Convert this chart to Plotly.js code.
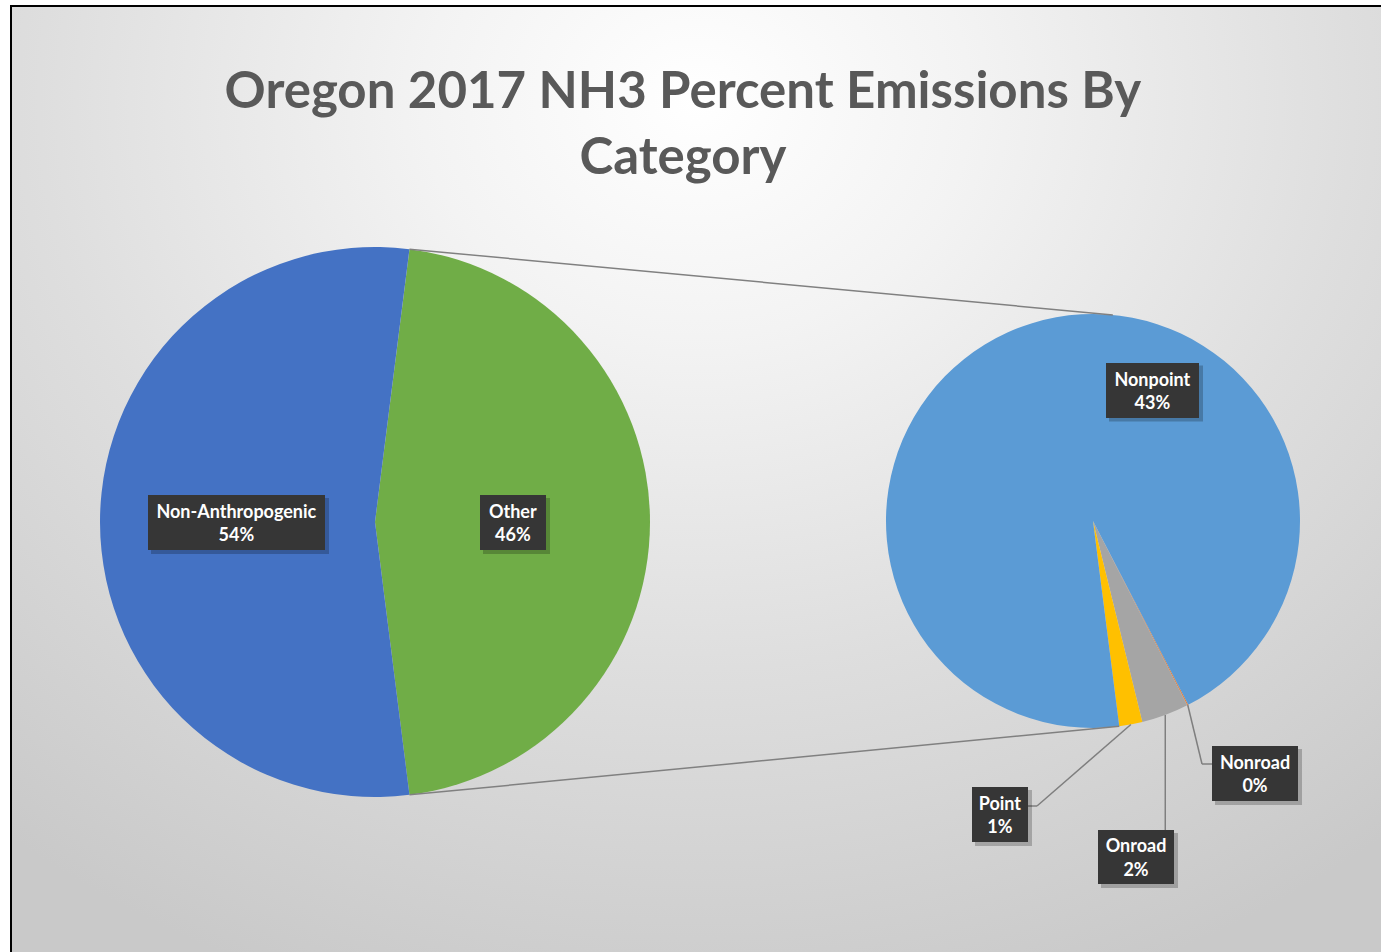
<!DOCTYPE html>
<html>
<head>
<meta charset="utf-8">
<script src="https://cdn.plot.ly/plotly-3.0.1.min.js"></script>
<style>
  html, body { margin: 0; padding: 0; background: #ffffff; width: 1381px; height: 952px; overflow: hidden; }
  #bg { position: absolute; left: 10px; top: 5px; width: 1371px; height: 947px;
        border-left: 2px solid #000; border-top: 2px solid #000; box-sizing: border-box;
        background: radial-gradient(ellipse 80% 100% at 50% 10%, #ffffff 0%, #f3f3f3 25%, #dedede 60%, #c9c9c9 100%); }
  #chart { position: absolute; left: 0; top: 0; width: 1381px; height: 952px; }
</style>
</head>
<body>
<div id="bg"></div>
<div id="chart"></div>
<script>
// ---- data ----
var mainLabels = ["Other", "Non-Anthropogenic"];
var nonAnthropogenic = 54.0;
var subLabels = ["Nonroad", "Onroad", "Point", "Nonpoint"];
var subValues = [0.04, 1.70, 0.83, 43.43];
var mainColors = ["#70AD47", "#4472C4"];
var subColors = ["#ED7D31", "#A5A5A5", "#FFC000", "#5B9BD5"];

var otherTotal = subValues.reduce(function (a, b) { return a + b; }, 0);
var mainValues = [otherTotal, nonAnthropogenic];
var total = otherTotal + nonAnthropogenic;

var W = 1381, H = 952;
function px(x) { return x / W; }
function py(y) { return 1 - y / H; }

// geometry (pixels)
var L = { cx: 375, cy: 522, r: 275 };
var R = { cx: 1093, cy: 521, r: 207 };

// Other slice centered at 3 o'clock
var otherAngle = otherTotal / total * 360;
var mainRotation = 90 - otherAngle / 2;
var subRotation = 152.6;

function pt(c, angDeg, rr) {
  var a = angDeg * Math.PI / 180;
  var r = rr === undefined ? c.r : rr;
  return [c.cx + r * Math.sin(a), c.cy - r * Math.cos(a)];
}

var traces = [
  {
    type: "pie", labels: mainLabels, values: mainValues, sort: false,
    direction: "clockwise", rotation: mainRotation,
    marker: { colors: mainColors, line: { width: 0 } },
    textinfo: "none", hoverinfo: "label+percent",
    domain: { x: [px(L.cx - L.r), px(L.cx + L.r)], y: [py(L.cy + L.r), py(L.cy - L.r)] },
    showlegend: false
  },
  {
    type: "pie", labels: subLabels, values: subValues, sort: false,
    direction: "clockwise", rotation: subRotation,
    marker: { colors: subColors, line: { width: 0 } },
    textinfo: "none", hoverinfo: "label+value",
    domain: { x: [px(R.cx - R.r), px(R.cx + R.r)], y: [py(R.cy + R.r), py(R.cy - R.r)] },
    showlegend: false
  }
];

// angles in the secondary pie
var acc = subRotation;
var subMid = [];
var subEdges = [acc];
for (var i = 0; i < subValues.length; i++) {
  var span = subValues[i] / otherTotal * 360;
  subMid.push(acc + span / 2);
  acc += span;
  subEdges.push(acc);
}

var shapes = [];
function line(p1, p2, color, w) {
  shapes.push({ type: "line", xref: "paper", yref: "paper",
    x0: px(p1[0]), y0: py(p1[1]), x1: px(p2[0]), y1: py(p2[1]),
    line: { color: color || "#7f7f7f", width: w || 1.5 } });
}
// connector lines
line(pt(L, mainRotation), pt(R, 5.5), "#808080", 1.5);
line(pt(L, mainRotation + otherAngle), pt(R, subEdges[3]), "#808080", 1.5);

// leader lines
var pPoint = pt(R, subMid[2]);
line(pPoint, [1037, 806]); line([1037, 806], [1028, 806]);
var pOn = pt(R, subMid[1]);
line(pOn, [pOn[0], 830]);
var pNon = pt(R, subMid[0]);
line(pNon, [1202, 764]); line([1202, 764], [1212, 764]);

// data labels
function pct(v) { return Math.round(v / total * 100) + "%"; }
var labelBoxes = [
  { t: mainLabels[1], v: mainValues[1], cx: 236.5, cy: 522.5, w: 177, h: 55 },
  { t: mainLabels[0], v: mainValues[0], cx: 513, cy: 522.5, w: 66, h: 55 },
  { t: subLabels[3], v: subValues[3], cx: 1152.5, cy: 390, w: 93, h: 55 },
  { t: subLabels[2], v: subValues[2], cx: 1000, cy: 814.5, w: 56, h: 55 },
  { t: subLabels[1], v: subValues[1], cx: 1136, cy: 857, w: 76, h: 54 },
  { t: subLabels[0], v: subValues[0], cx: 1255, cy: 773.5, w: 86, h: 55 }
];
var annotations = [];
labelBoxes.forEach(function (b) {
  // shadow
  shapes.push({ type: "rect", xref: "paper", yref: "paper", layer: "above",
    x0: px(b.cx - b.w / 2 + 3), x1: px(b.cx + b.w / 2 + 4),
    y0: py(b.cy + b.h / 2 + 4), y1: py(b.cy - b.h / 2 + 3),
    fillcolor: "rgba(0,0,0,0.22)", line: { width: 0 } });
  annotations.push({
    xref: "paper", yref: "paper", x: px(b.cx), y: py(b.cy),
    xanchor: "center", yanchor: "middle", showarrow: false,
    text: "<b>" + b.t + "</b><br><b>" + pct(b.v) + "</b>",
    font: { family: "Lato, 'Open Sans', sans-serif", size: 18, color: "#ffffff" },
    bgcolor: "#363636", borderpad: 0, borderwidth: 0,
    width: b.w, height: b.h, align: "center", valign: "middle"
  });
});

var layout = {
  width: W, height: H,
  margin: { l: 0, r: 0, t: 0, b: 0 },
  paper_bgcolor: "rgba(0,0,0,0)", plot_bgcolor: "rgba(0,0,0,0)",
  title: {
    text: "<b>Oregon 2017 NH3 Percent Emissions By<br>Category</b>",
    font: { family: "Lato, 'Open Sans', sans-serif", size: 51, color: "#595959" },
    x: 0.4945, xanchor: "center", y: 1 - 108 / H, yanchor: "top", yref: "container", xref: "paper"
  },
  shapes: shapes,
  annotations: annotations,
  showlegend: false
};

Plotly.newPlot("chart", traces, layout, { displayModeBar: false, responsive: false });
</script>
</body>
</html>
